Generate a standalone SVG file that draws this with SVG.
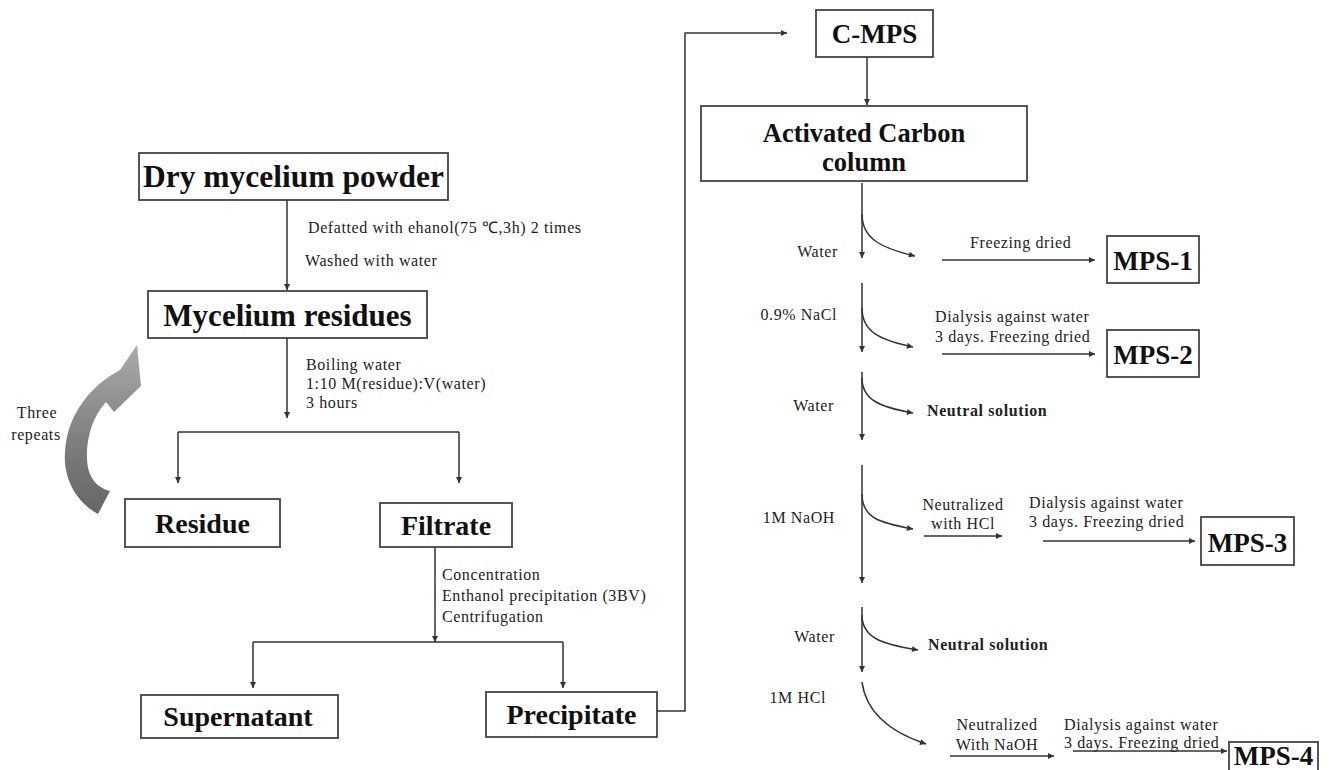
<svg xmlns="http://www.w3.org/2000/svg" width="1330" height="770" viewBox="0 0 1330 770">
<defs>
<marker id="ah" viewBox="0 0 10 10" refX="10" refY="5" markerWidth="8" markerHeight="6" markerUnits="userSpaceOnUse" orient="auto"><path d="M0,0 L10,5 L0,10 Z" fill="#333"/></marker>
<linearGradient id="g" x1="0" y1="0" x2="0" y2="1"><stop offset="0" stop-color="#ababab"/><stop offset="0.6" stop-color="#7c7c7c"/><stop offset="1" stop-color="#666"/></linearGradient>
</defs>
<style>
.box{fill:#fff;stroke:#444;stroke-width:1.8}
.bt{font-family:"Liberation Serif","Times New Roman",serif;font-weight:bold;fill:#111;text-anchor:middle}
.st{font-family:"Liberation Serif","Times New Roman",serif;font-size:16px;fill:#222;letter-spacing:0.6px}
.sb{font-weight:bold}
.mid{text-anchor:middle}
.end{text-anchor:end}
.ln{fill:none;stroke:#333;stroke-width:1.5}
.ar{marker-end:url(#ah)}
</style>
<rect width="1330" height="770" fill="#fff"/>

<g id="dry"><rect class="box" x="139" y="153" width="309" height="47"/><text class="bt" x="293.5" y="187" font-size="31.5">Dry mycelium powder</text></g>
<g id="residues"><rect class="box" x="148" y="291" width="279" height="47"/><text class="bt" x="287.5" y="326" font-size="31">Mycelium residues</text></g>
<g id="residue"><rect class="box" x="125" y="499" width="155" height="48"/><text class="bt" x="202.5" y="533" font-size="28">Residue</text></g>
<g id="filtrate"><rect class="box" x="380" y="503" width="132" height="44"/><text class="bt" x="446" y="535" font-size="28">Filtrate</text></g>
<g id="supernatant"><rect class="box" x="141" y="695" width="197" height="43"/><text class="bt" x="238" y="726" font-size="28">Supernatant</text></g>
<g id="precipitate"><rect class="box" x="486" y="692" width="171" height="45"/><text class="bt" x="571.5" y="724" font-size="28">Precipitate</text></g>
<g id="cmps"><rect class="box" x="816" y="10" width="117" height="47"/><text class="bt" x="874.5" y="43" font-size="27">C-MPS</text></g>
<g id="carbon"><rect class="box" x="701" y="106" width="326" height="75"/><text class="bt" x="864" y="142" font-size="26.5">Activated Carbon</text><text class="bt" x="864" y="171" font-size="26.5">column</text></g>
<g id="mps1"><rect class="box" x="1107" y="236" width="92" height="47"/><text class="bt" x="1153" y="270" font-size="27">MPS-1</text></g>
<g id="mps2"><rect class="box" x="1107" y="330" width="92" height="47"/><text class="bt" x="1153" y="364" font-size="27">MPS-2</text></g>
<g id="mps3"><rect class="box" x="1201" y="517" width="93" height="48"/><text class="bt" x="1247.5" y="552" font-size="27">MPS-3</text></g>
<g id="mps4"><rect class="box" x="1229" y="742" width="89" height="40"/><text class="bt" x="1273.5" y="765" font-size="27">MPS-4</text></g>

<g id="repeat-arrow"><path d="M137,345 L141,386 L114,412 L106,402 C91,418 84,445 88,468 C91,480 98,488 110,491 L98,514 C76,502 63,478 65,452 C67,415 90,386 120,370 Z" fill="url(#g)"/></g>

<g id="connectors">
<line class="ln ar" x1="287" y1="200" x2="287" y2="290"/>
<line class="ln ar" x1="287" y1="338" x2="287" y2="418"/>
<line class="ln" x1="178" y1="432" x2="459" y2="432"/>
<line class="ln ar" x1="178" y1="432" x2="178" y2="483"/>
<line class="ln ar" x1="459" y1="432" x2="459" y2="483"/>
<line class="ln ar" x1="435" y1="547" x2="435" y2="642"/>
<line class="ln" x1="253" y1="642" x2="563" y2="642"/>
<line class="ln ar" x1="253" y1="642" x2="253" y2="688"/>
<line class="ln ar" x1="563" y1="642" x2="563" y2="688"/>
<polyline class="ln ar" points="657,711 685,711 685,33 787,33"/>
<line class="ln ar" x1="867" y1="57" x2="867" y2="105"/>
<line class="ln ar" x1="862" y1="183" x2="862" y2="258"/>
<line class="ln ar" x1="862" y1="283" x2="862" y2="352"/>
<line class="ln ar" x1="862" y1="372" x2="862" y2="440"/>
<line class="ln ar" x1="862" y1="465" x2="862" y2="583"/>
<line class="ln ar" x1="862" y1="607" x2="862" y2="672"/>
<path class="ln ar" d="M862,214 C862,238 880,248 915,256"/>
<path class="ln ar" d="M862,308 C862,332 880,340 913,347"/>
<path class="ln ar" d="M862,378 C862,400 880,407 913,413"/>
<path class="ln ar" d="M862,494 C862,518 880,523 913,529"/>
<path class="ln ar" d="M862,615 C862,637 880,644 918,650"/>
<path class="ln ar" d="M862,682 C866,712 890,732 926,744"/>
<line class="ln ar" x1="942" y1="260" x2="1095" y2="260"/>
<line class="ln ar" x1="942" y1="354" x2="1095" y2="354"/>
<line class="ln ar" x1="924" y1="536" x2="1002" y2="536"/>
<line class="ln ar" x1="1043" y1="541" x2="1195" y2="541"/>
<line class="ln ar" x1="950" y1="756" x2="1054" y2="756"/>
<line class="ln ar" x1="1073" y1="751" x2="1227" y2="751"/>
</g>

<g id="labels">
<text class="st" x="308" y="233">Defatted with ehanol(75 ℃,3h) 2 times</text>
<text class="st" x="305" y="266">Washed with water</text>
<text class="st" x="306" y="370">Boiling water</text>
<text class="st" x="306" y="389">1:10 M(residue):V(water)</text>
<text class="st" x="306" y="408">3 hours</text>
<text class="st mid" x="37" y="418">Three</text>
<text class="st mid" x="36" y="440">repeats</text>
<text class="st" x="442" y="580">Concentration</text>
<text class="st" x="442" y="601">Enthanol precipitation (3BV)</text>
<text class="st" x="442" y="622">Centrifugation</text>
<text class="st end" x="838" y="257">Water</text>
<text class="st end" x="837" y="320">0.9% NaCl</text>
<text class="st end" x="834" y="411">Water</text>
<text class="st end" x="835" y="523">1M NaOH</text>
<text class="st end" x="835" y="642">Water</text>
<text class="st end" x="826" y="703">1M HCl</text>
<text class="st" x="970" y="248">Freezing dried</text>
<text class="st" x="935" y="322">Dialysis against water</text>
<text class="st" x="935" y="342">3 days. Freezing dried</text>
<text class="st sb" x="927" y="416">Neutral solution</text>
<text class="st mid" x="963" y="510">Neutralized</text>
<text class="st mid" x="963" y="529">with HCl</text>
<text class="st" x="1029" y="508">Dialysis against water</text>
<text class="st" x="1029" y="527">3 days. Freezing dried</text>
<text class="st sb" x="928" y="650">Neutral solution</text>
<text class="st mid" x="997" y="730">Neutralized</text>
<text class="st mid" x="997" y="750">With NaOH</text>
<text class="st" x="1064" y="730">Dialysis against water</text>
<text class="st" x="1064" y="748">3 days. Freezing dried</text>
</g>
</svg>
